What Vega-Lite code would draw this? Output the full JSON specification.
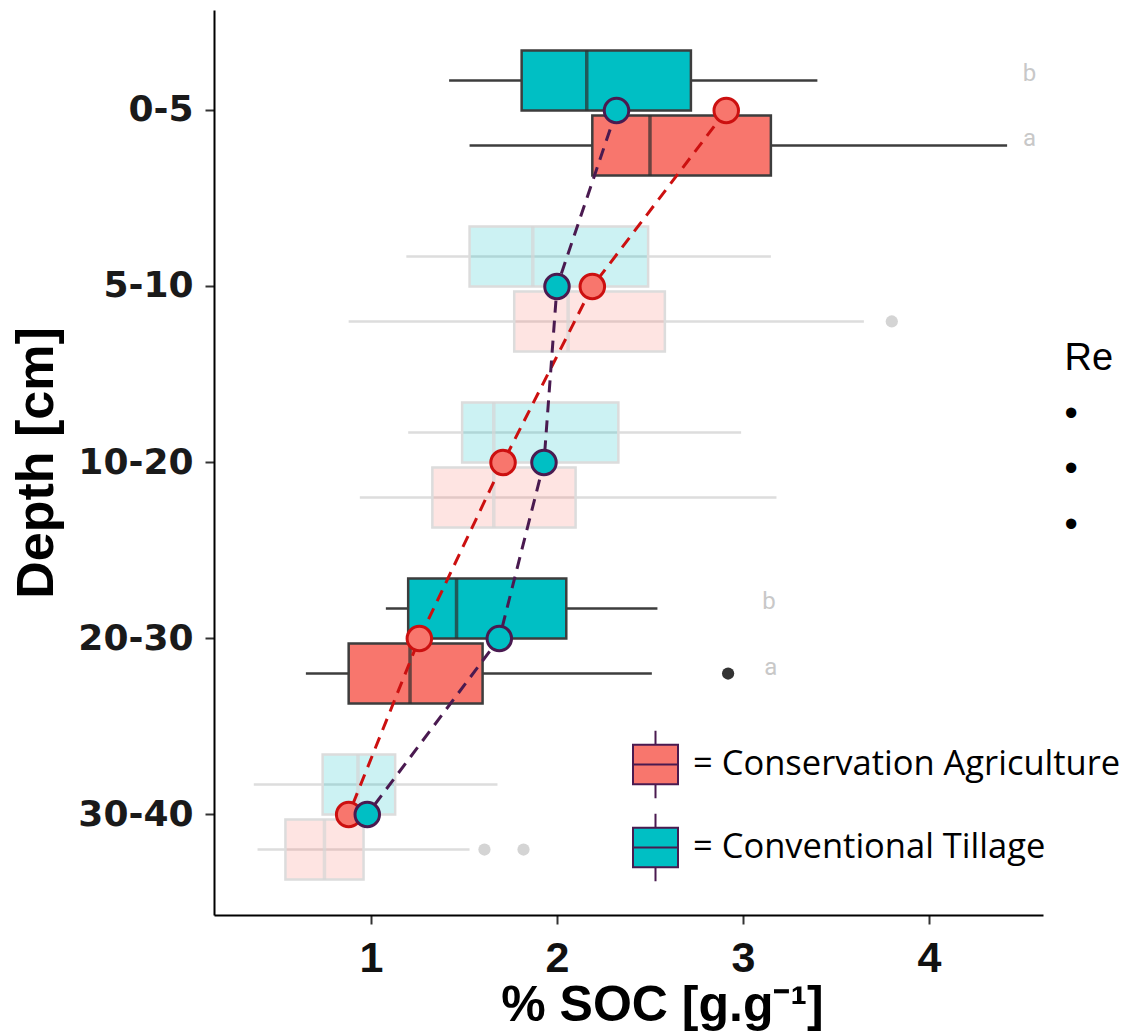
{
  "$schema": "https://vega.github.io/schema/vega-lite/v6.json",
  "width": 829,
  "height": 905,
  "autosize": {"type": "none"},
  "padding": {"left": 214, "top": 10, "right": 81, "bottom": 117},
  "background": "white",
  "title": {"text": ["Re", "\u2002•", "\u2002•", "\u2002•"], "orient": "right", "angle": 0, "anchor": "start", "align": "left", "baseline": "top",
    "offset": -105, "dy": 330, "font": "Liberation Sans", "fontSize": 38, "fontWeight": "normal", "lineHeight": 55.5, "color": "#000"},
  "config": {"view": {"stroke": null}},
  "datasets": {
    "boxes": [
      {"depth": "0-5", "treatment": "Conventional Tillage", "lower": 1.42, "q1": 1.81, "median": 2.16, "q3": 2.72, "upper": 3.40},
      {"depth": "0-5", "treatment": "Conservation Agriculture", "lower": 1.53, "q1": 2.19, "median": 2.50, "q3": 3.15, "upper": 4.42},
      {"depth": "5-10", "treatment": "Conventional Tillage", "lower": 1.19, "q1": 1.53, "median": 1.87, "q3": 2.49, "upper": 3.15},
      {"depth": "5-10", "treatment": "Conservation Agriculture", "lower": 0.88, "q1": 1.77, "median": 2.06, "q3": 2.58, "upper": 3.65},
      {"depth": "10-20", "treatment": "Conventional Tillage", "lower": 1.20, "q1": 1.49, "median": 1.66, "q3": 2.33, "upper": 2.99},
      {"depth": "10-20", "treatment": "Conservation Agriculture", "lower": 0.94, "q1": 1.33, "median": 1.66, "q3": 2.10, "upper": 3.18},
      {"depth": "20-30", "treatment": "Conventional Tillage", "lower": 1.08, "q1": 1.20, "median": 1.46, "q3": 2.05, "upper": 2.54},
      {"depth": "20-30", "treatment": "Conservation Agriculture", "lower": 0.65, "q1": 0.88, "median": 1.21, "q3": 1.60, "upper": 2.51},
      {"depth": "30-40", "treatment": "Conventional Tillage", "lower": 0.37, "q1": 0.74, "median": 0.93, "q3": 1.13, "upper": 1.68},
      {"depth": "30-40", "treatment": "Conservation Agriculture", "lower": 0.39, "q1": 0.54, "median": 0.75, "q3": 0.96, "upper": 1.53}
    ],
    "outliers": [
      {"depth": "5-10", "treatment": "Conservation Agriculture", "value": 3.80},
      {"depth": "20-30", "treatment": "Conservation Agriculture", "value": 2.92},
      {"depth": "30-40", "treatment": "Conservation Agriculture", "value": 1.61},
      {"depth": "30-40", "treatment": "Conservation Agriculture", "value": 1.82}
    ],
    "letters": [
      {"depth": "0-5", "treatment": "Conventional Tillage", "x": 4.54, "letter": "b"},
      {"depth": "0-5", "treatment": "Conservation Agriculture", "x": 4.54, "letter": "a"},
      {"depth": "20-30", "treatment": "Conventional Tillage", "x": 3.14, "letter": "b"},
      {"depth": "20-30", "treatment": "Conservation Agriculture", "x": 3.15, "letter": "a"}
    ],
    "means": [
      {"depth": "0-5", "treatment": "Conservation Agriculture", "mean": 2.91},
      {"depth": "5-10", "treatment": "Conservation Agriculture", "mean": 2.19},
      {"depth": "10-20", "treatment": "Conservation Agriculture", "mean": 1.71},
      {"depth": "20-30", "treatment": "Conservation Agriculture", "mean": 1.26},
      {"depth": "30-40", "treatment": "Conservation Agriculture", "mean": 0.88},
      {"depth": "0-5", "treatment": "Conventional Tillage", "mean": 2.32},
      {"depth": "5-10", "treatment": "Conventional Tillage", "mean": 2.00},
      {"depth": "10-20", "treatment": "Conventional Tillage", "mean": 1.93},
      {"depth": "20-30", "treatment": "Conventional Tillage", "mean": 1.69},
      {"depth": "30-40", "treatment": "Conventional Tillage", "mean": 0.98}
    ]
  },
  "layer": [
    {
      "data": {"name": "boxes"},
      "mark": {"type": "rule", "strokeWidth": 2.5},
      "encoding": {
        "x": {"field": "lower", "type": "quantitative", "title": "% SOC [g.g⁻¹]",
          "scale": {"domain": [0.156, 4.613], "nice": false, "zero": false},
          "axis": {"values": [1, 2, 3, 4], "format": "d", "grid": false, "domainColor": "#000", "domainWidth": 2,
            "tickColor": "#333", "tickWidth": 2, "tickSize": 9,
            "labelFont": "Liberation Sans", "labelFontWeight": "bold", "labelFontSize": 43, "labelColor": "#111", "labelPadding": 13,
            "titleFont": "Liberation Sans", "titleFontWeight": "bold", "titleFontSize": 50, "titleColor": "#000",
            "titleX": 448, "titleY": 105, "titleBaseline": "alphabetic"}},
        "x2": {"field": "upper"},
        "y": {"field": "depth", "type": "nominal", "title": "Depth [cm]",
          "sort": ["0-5", "5-10", "10-20", "20-30", "30-40"],
          "scale": {"type": "band", "paddingInner": 0, "paddingOuter": 0.071},
          "axis": {"grid": false, "domainColor": "#000", "domainWidth": 2, "tickColor": "#333", "tickWidth": 2, "tickSize": 9,
            "labelFont": "DejaVu Sans", "labelFontWeight": "bold", "labelFontSize": 36, "labelColor": "#1a1a1a", "labelPadding": 12,
            "titleFont": "Liberation Sans", "titleFontWeight": "bold", "titleFontSize": 52, "titleColor": "#000", "titlePadding": 14}},
        "yOffset": {"field": "treatment", "type": "nominal",
          "scale": {"type": "band", "domain": ["Conventional Tillage", "Conservation Agriculture"], "range": [28, 153], "paddingInner": 0.077, "paddingOuter": 0}},
        "stroke": {"condition": {"test": "datum.depth == '0-5' || datum.depth == '20-30'", "value": "#3d3d3d"}, "value": "#dddddd"}
      }
    },
    {
      "data": {"name": "boxes"},
      "mark": {"type": "bar", "strokeWidth": 2.5},
      "encoding": {
        "x": {"field": "q1", "type": "quantitative", "title": "% SOC [g.g⁻¹]"},
        "x2": {"field": "q3"},
        "y": {"field": "depth", "type": "nominal", "title": "Depth [cm]", "sort": ["0-5", "5-10", "10-20", "20-30", "30-40"]},
        "yOffset": {"field": "treatment", "type": "nominal"},
        "fill": {"field": "treatment", "type": "nominal",
          "scale": {"domain": ["Conservation Agriculture", "Conventional Tillage"], "range": ["#F8766D", "#00BFC4"]},
          "legend": {"orient": "none", "legendX": 418, "legendY": 731, "title": null, "padding": 0,
            "symbolType": "M-1,-0.88H1V0.88H-1Z M-1,0H1 M0,-0.88V-1.5 M0,0.88V1.5",
            "symbolSize": 2025, "symbolStrokeColor": "#3d3d3d", "symbolStrokeWidth": 2, "symbolOpacity": 1,
            "labelExpr": "'= ' + datum.label", "labelFont": "Open Sans", "labelFontSize": 34.5, "labelColor": "#000",
            "labelLimit": 0, "labelOffset": 14, "rowPadding": 6}},
        "fillOpacity": {"condition": {"test": "datum.depth == '0-5' || datum.depth == '20-30'", "value": 1}, "value": 0.2},
        "stroke": {"condition": {"test": "datum.depth == '0-5' || datum.depth == '20-30'", "value": "#3d3d3d"}, "value": "#dcdcdc"}
      }
    },
    {
      "data": {"name": "boxes"},
      "mark": {"type": "tick", "thickness": 3.5, "size": 60},
      "encoding": {
        "x": {"field": "median", "type": "quantitative", "title": "% SOC [g.g⁻¹]"},
        "y": {"field": "depth", "type": "nominal", "title": "Depth [cm]", "sort": ["0-5", "5-10", "10-20", "20-30", "30-40"]},
        "yOffset": {"field": "treatment", "type": "nominal"},
        "color": {"condition": {"test": "datum.depth == '0-5' || datum.depth == '20-30'", "value": "#2e2e2e"}, "value": "#d6d6d6"}
      }
    },
    {
      "data": {"name": "outliers"},
      "mark": {"type": "circle", "size": 150, "opacity": 1},
      "encoding": {
        "x": {"field": "value", "type": "quantitative", "title": "% SOC [g.g⁻¹]"},
        "y": {"field": "depth", "type": "nominal", "title": "Depth [cm]", "sort": ["0-5", "5-10", "10-20", "20-30", "30-40"]},
        "yOffset": {"field": "treatment", "type": "nominal"},
        "color": {"condition": {"test": "datum.depth == '0-5' || datum.depth == '20-30'", "value": "#333333"}, "value": "#d4d4d4"}
      }
    },
    {
      "data": {"name": "letters"},
      "mark": {"type": "text", "font": "Roboto", "fontSize": 24, "color": "#c8c8c8", "dy": -6},
      "encoding": {
        "x": {"field": "x", "type": "quantitative", "title": "% SOC [g.g⁻¹]"},
        "y": {"field": "depth", "type": "nominal", "title": "Depth [cm]", "sort": ["0-5", "5-10", "10-20", "20-30", "30-40"]},
        "yOffset": {"field": "treatment", "type": "nominal"},
        "text": {"field": "letter"}
      }
    },
    {
      "data": {"name": "means"},
      "mark": {"type": "line", "strokeWidth": 3, "strokeDash": [12, 8]},
      "encoding": {
        "x": {"field": "mean", "type": "quantitative", "title": "% SOC [g.g⁻¹]"},
        "y": {"field": "depth", "type": "nominal", "title": "Depth [cm]", "sort": ["0-5", "5-10", "10-20", "20-30", "30-40"]},
        "detail": {"field": "treatment"},
        "order": {"field": "mean", "sort": "descending"},
        "stroke": {"condition": {"test": "datum.treatment == 'Conservation Agriculture'", "value": "#cc1010"}, "value": "#4a1a50"}
      }
    },
    {
      "data": {"name": "means"},
      "mark": {"type": "point", "filled": false, "size": 600, "strokeWidth": 3, "opacity": 1},
      "encoding": {
        "x": {"field": "mean", "type": "quantitative", "title": "% SOC [g.g⁻¹]"},
        "y": {"field": "depth", "type": "nominal", "title": "Depth [cm]", "sort": ["0-5", "5-10", "10-20", "20-30", "30-40"]},
        "fill": {"field": "treatment", "type": "nominal"},
        "stroke": {"condition": {"test": "datum.treatment == 'Conservation Agriculture'", "value": "#cc1010"}, "value": "#4a1a50"}
      }
    }
  ]
}
